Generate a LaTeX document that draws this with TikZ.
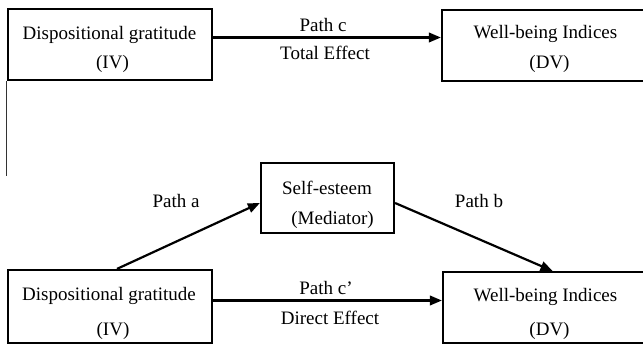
\documentclass[tikz,border=0pt]{standalone}
\usepackage{fontspec}
\setmainfont{Liberation Serif}
\usetikzlibrary{arrows.meta}
\tikzset{
  box/.style={draw, line width=2.2pt, inner sep=0pt},
  txt/.style={font=\fontsize{19}{23}\selectfont, inner sep=0pt, anchor=base},
  arr/.style={line width=2.2pt, -{Triangle[length=12pt,width=9.5pt]}},
  edge/.style={line width=1.5pt, black!80}
}
\begin{document}
\begin{tikzpicture}[x=1pt,y=-1pt]
\clip (0,0) rectangle (643,344);
\fill[white] (0,0) rectangle (643,344);
% boxes
\node[box, minimum width=204pt, minimum height=71pt] (iv1) at (110,44.5) {};
\node[box, minimum width=208pt, minimum height=71pt] (dv1) at (546,45.5) {};
\node[box, minimum width=133pt, minimum height=70pt] (med) at (327.5,198) {};
\node[box, minimum width=204pt, minimum height=73pt] (iv2) at (110,306.5) {};
\node[box, minimum width=207pt, minimum height=71pt] (dv2) at (546.5,307.5) {};
% box texts
\node[txt] (iv1a) at (109.5,39.3) {Dispositional gratitude};
\node[txt] (iv1b) at (112.5,68.3) {(IV)};
\node[txt] (dv1a) at (545.5,38.3) {Well-being Indices};
\node[txt] (dv1b) at (549.5,69) {(DV)};
\node[txt] (meda) at (327,194.3) {Self-esteem};
\node[txt] (medb) at (332.5,225) {(Mediator)};
\node[txt] (iv2a) at (109,301) {Dispositional gratitude};
\node[txt] (iv2b) at (113,336) {(IV)};
\node[txt] (dv2a) at (545.5,301.7) {Well-being Indices};
\node[txt] (dv2b) at (549.5,335.7) {(DV)};
% path labels
\node[txt] (pc) at (323,31.7) {Path c};
\node[txt] (te) at (325,60) {Total Effect};
\node[txt] (pcp) at (326,295) {Path c’};
\node[txt] (de) at (330,325) {Direct Effect};
\node[txt] (pa) at (176,208) {Path a};
\node[txt] (pb) at (479,208) {Path b};
% vertical line
\coordinate (vend) at (7,176);
\draw[edge] ([xshift=-0.6pt]iv1.south west) -- ([xshift=-0.6pt]iv1.south west |- vend);
% arrows
\draw[arr] ([yshift=7pt]iv1.east) -- ([yshift=7pt]iv1.east -| dv1.west);
\draw[arr] ([yshift=6pt]iv2.east) -- ([yshift=6pt]iv2.east -| dv2.west);
\draw[arr] ([xshift=7pt]iv2.north) -- ([yshift=-5pt]med.west);
\draw[arr] ([yshift=-5pt]med.east) -- ([xshift=6pt]dv2.north);
\end{tikzpicture}
\end{document}
